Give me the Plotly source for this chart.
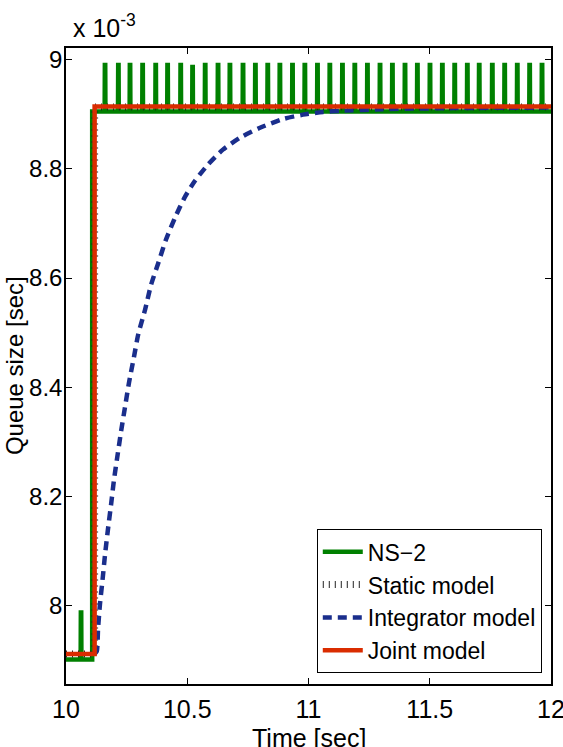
import plotly.graph_objects as go

# ---- data (queue size in units of 1e-3 sec) ----
# NS-2 simulation: base levels, spike times and spike peaks
ns2_pre_level = 7.902
ns2_pre_spike_time = [10.062]
ns2_pre_spike_peak = [7.988]
ns2_step_time = 10.108
ns2_level = 8.905
ns2_spike_times = [10.161, 10.216, 10.264, 10.316, 10.370, 10.419, 10.473, 10.522,
                   10.574, 10.627, 10.676, 10.730, 10.781, 10.832, 10.882, 10.934,
                   10.985, 11.037, 11.088, 11.140, 11.191, 11.243, 11.295, 11.346,
                   11.398, 11.449, 11.501, 11.552, 11.603, 11.655, 11.704, 11.758,
                   11.809, 11.861, 11.912, 11.963]
ns2_spike_peaks = [8.990, 8.990, 8.990, 8.990, 8.990, 8.990, 8.990, 8.986,
                   8.990, 8.990, 8.990, 8.990, 8.990, 8.990, 8.990, 8.990,
                   8.990, 8.990, 8.990, 8.990, 8.990, 8.990, 8.990, 8.990,
                   8.990, 8.990, 8.990, 8.990, 8.990, 8.990, 8.990, 8.990,
                   8.990, 8.990, 8.990, 8.990]

# Static model and joint model (step)
step_time = [10.0, 10.118, 10.118, 12.0]
static_vals = [7.912, 7.912, 8.913, 8.913]
joint_vals = [7.912, 7.912, 8.914, 8.914]

# Integrator model
integ_time = [10.118, 10.127, 10.132, 10.140, 10.151, 10.161, 10.173, 10.186, 10.198,
              10.213, 10.227, 10.243, 10.260, 10.280, 10.298, 10.326, 10.351,
              10.381, 10.412, 10.449, 10.491, 10.532, 10.586, 10.647, 10.718,
              10.800, 10.895, 10.977, 11.060, 11.130, 11.300, 11.600, 12.0]
integ_vals = [7.912, 7.917, 7.957, 8.003, 8.049, 8.094, 8.140, 8.186, 8.231,
              8.277, 8.319, 8.363, 8.409, 8.455, 8.497, 8.542, 8.588,
              8.628, 8.670, 8.710, 8.749, 8.778, 8.808, 8.835, 8.857,
              8.875, 8.891, 8.899, 8.904, 8.906, 8.909, 8.911, 8.912]

x_ticks = [10, 10.5, 11, 11.5, 12]
x_tick_labels = ["10", "10.5", "11", "11.5", "12"]
y_ticks = [8.0, 8.2, 8.4, 8.6, 8.8, 9.0]
y_tick_labels = ["8", "8.2", "8.4", "8.6", "8.8", "9"]

# ---- build NS-2 path from the data ----
half = 0.0008
gx, gy = [10.0], [ns2_pre_level]
for t, p in zip(ns2_pre_spike_time, ns2_pre_spike_peak):
    gx += [t - 2 * half, t - half, t + half, t + 2 * half]
    gy += [ns2_pre_level, p, p, ns2_pre_level]
gx += [ns2_step_time, ns2_step_time]
gy += [ns2_pre_level, ns2_level]
for t, p in zip(ns2_spike_times, ns2_spike_peaks):
    gx += [t - 2 * half, t - half, t + half, t + 2 * half]
    gy += [ns2_level, p, p, ns2_level]
gx.append(12.0)
gy.append(ns2_level)

FONT = "Liberation Sans Narrow, Arial Narrow, Liberation Sans, Arial, sans-serif"

fig = go.Figure()
fig.add_trace(go.Scatter(x=gx, y=gy, mode="lines", name="NS\u22122",
                         line=dict(color="#008000", width=4.5)))
fig.add_trace(go.Scatter(x=step_time, y=static_vals, mode="lines", name="Static model",
                         line=dict(color="#222222", width=7, dash="1px,5px")))
fig.add_trace(go.Scatter(x=integ_time, y=integ_vals, mode="lines", name="Integrator model",
                         line=dict(color="#1a2e8c", width=4.5, dash="9px,6px",
                                   shape="spline", smoothing=0.6)))
fig.add_trace(go.Scatter(x=step_time, y=joint_vals, mode="lines", name="Joint model",
                         line=dict(color="#da2c00", width=4.5)))

axis_common = dict(showline=True, linecolor="black", linewidth=1.5, mirror="ticks",
                   ticks="inside", ticklen=6, tickcolor="black", tickwidth=1,
                   showgrid=False, zeroline=False, automargin=False,
                   ticklabeloverflow="allow")

fig.update_xaxes(range=[10, 12], tickvals=x_ticks, ticktext=x_tick_labels,
                 ticklabelstandoff=2,
                 tickfont=dict(family=FONT, size=25, color="black"), **axis_common)
fig.update_yaxes(range=[7.857, 9.021], tickvals=y_ticks, ticktext=y_tick_labels,
                 ticklabelstandoff=-3,
                 tickfont=dict(family=FONT, size=24, color="black"), **axis_common)

# axis titles as annotations for exact placement
fig.add_annotation(xref="paper", yref="paper", x=0.5, y=-0.085, xanchor="center",
                   yanchor="middle", showarrow=False, text="Time [sec]",
                   font=dict(family=FONT, size=25, color="black"))
fig.add_annotation(xref="paper", yref="paper", x=-0.107, y=0.5, xanchor="center",
                   yanchor="middle", showarrow=False, text="Queue size [sec]",
                   textangle=-90, font=dict(family=FONT, size=24, color="black"))

fig.add_annotation(xref="paper", yref="paper", x=0, y=1, xanchor="left", yanchor="bottom",
                   xshift=5, yshift=4, showarrow=False,
                   text="x 10<sup>-3</sup>",
                   font=dict(family=FONT, size=25, color="black"))

fig.update_layout(
    width=563, height=747,
    margin=dict(l=66, r=12, t=48, b=63),
    paper_bgcolor="white", plot_bgcolor="white",
    showlegend=True,
    legend=dict(x=0.981, y=0.017, xanchor="right", yanchor="bottom",
                bgcolor="white", bordercolor="black", borderwidth=1,
                font=dict(family=FONT, size=23, color="black"),
                tracegroupgap=0, itemwidth=40),
)

fig.write_html("out.html")
